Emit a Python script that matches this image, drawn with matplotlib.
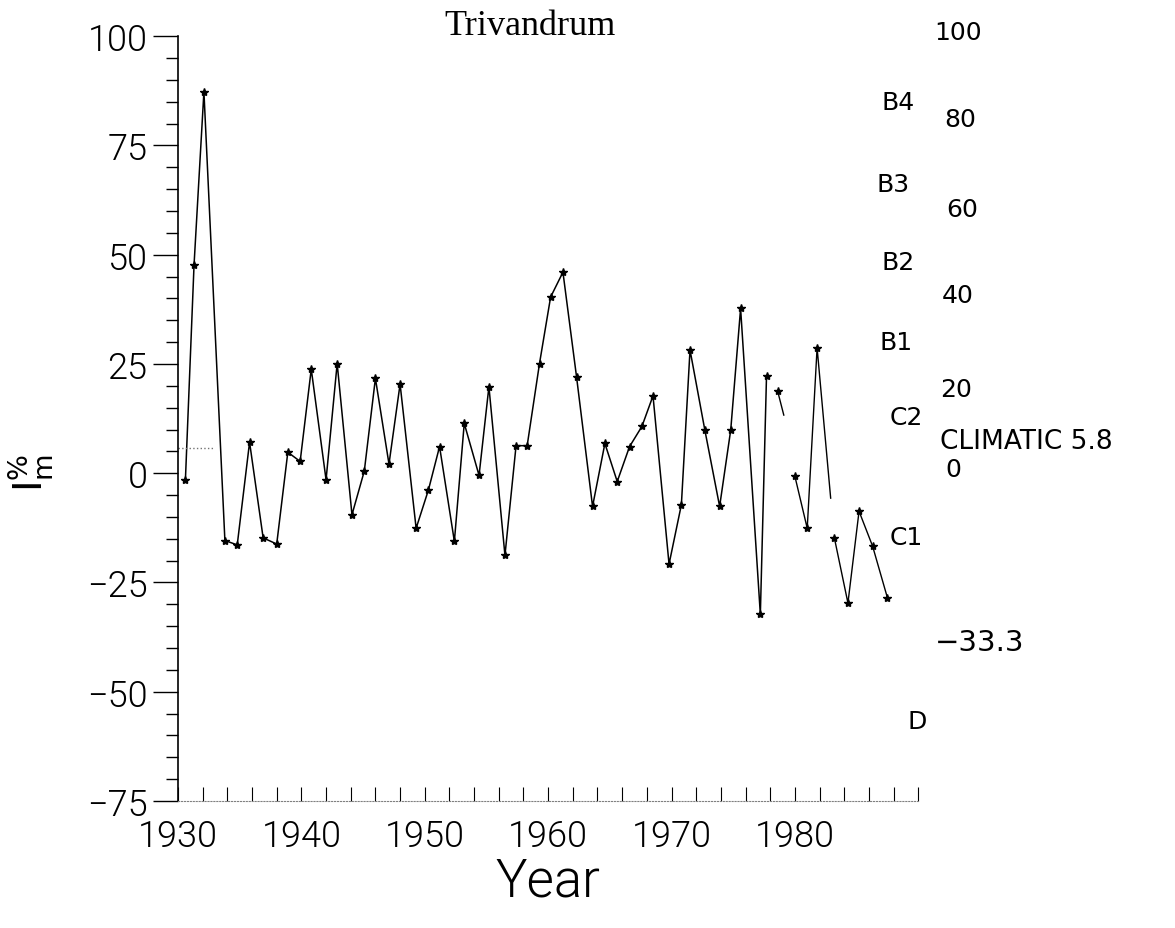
import matplotlib
matplotlib.use("Agg")
import matplotlib.pyplot as plt
from matplotlib.ticker import MultipleLocator

# Trivandrum moisture index (Im %)
years_a = [1930.6, 1931.3, 1932.1, 1933.8, 1934.8, 1935.8, 1936.9, 1938.0, 1938.9, 1939.9,
           1940.8, 1942.0, 1942.9, 1944.1, 1945.1, 1946.0, 1947.1, 1948.0, 1949.3, 1950.3,
           1951.2, 1952.4, 1953.2, 1954.4, 1955.2, 1956.5, 1957.4, 1958.3, 1959.3, 1960.2,
           1961.2, 1962.3, 1963.6, 1964.6, 1965.6, 1966.6, 1967.6, 1968.5, 1969.8, 1970.8,
           1971.5, 1972.7, 1973.9, 1974.8, 1975.6, 1977.2, 1977.7]
values_a = [-1.5, 47.7, 87.3, -15.4, -16.4, 7.1, -14.8, -16.2, 4.8, 2.7,
            23.8, -1.5, 25.1, -9.5, 0.5, 21.7, 2.1, 20.4, -12.6, -3.8,
            6.1, -15.6, 11.4, -0.5, 19.8, -18.8, 6.3, 6.3, 25.1, 40.3,
            46.0, 22.1, -7.6, 6.8, -1.9, 6.1, 10.7, 17.7, -20.8, -7.2,
            28.2, 9.9, -7.6, 9.9, 37.7, -32.3, 22.2]

# broken pieces of the trace towards the right
years_b = [1978.6, 1979.1]
values_b = [18.8, 13.3]
years_c = [1980.0, 1981.0, 1981.8, 1982.9]
values_c = [-0.7, -12.6, 28.7, -5.7]
years_d = [1983.2, 1984.3, 1985.2, 1986.3, 1987.5]
values_d = [-14.8, -29.7, -8.7, -16.7, -28.5]

climatic_mean = 5.8
mean_years = [1930, 1932.8]

decades = [1930, 1940, 1950, 1960, 1970, 1980]

# handwritten notes on the right margin: (text, x, y) in figure fraction
notes = [("100", 0.815, 0.964), ("B4", 0.764, 0.889), ("80", 0.817, 0.871),
         ("B3", 0.760, 0.801), ("60", 0.819, 0.774), ("B2", 0.764, 0.717),
         ("40", 0.815, 0.681), ("B1", 0.763, 0.631), ("20", 0.814, 0.580),
         ("C2", 0.771, 0.550), ("0", 0.811, 0.494), ("C1", 0.771, 0.421),
         ("D", 0.781, 0.223)]

tick_font = ["Roboto", "DejaVu Sans"]

fig = plt.figure(figsize=(11.75, 9.29), dpi=100)
ax = fig.add_axes([0.1515, 0.1367, 0.63, 0.8233])

ax.plot(years_a, values_a, color="k", lw=1.1, marker="*", ms=6)
ax.plot(years_b, values_b, color="k", lw=1.0, marker="*", ms=6, markevery=[0])
ax.plot(years_c, values_c, color="k", lw=1.0, marker="*", ms=6, markevery=[0, 1, 2])
ax.plot(years_d, values_d, color="k", lw=1.0, marker="*", ms=6)
ax.plot(mean_years, [climatic_mean, climatic_mean], color="0.45", lw=1.0, ls=":")

ax.set_xlim(1930, 1990)
ax.set_ylim(-75, 100)
ax.set_xticks(decades)
ax.set_xticklabels([str(d) for d in decades], family=tick_font, fontweight=300)
ax.xaxis.set_minor_locator(MultipleLocator(2))
ax.yaxis.set_major_locator(MultipleLocator(25))
ax.yaxis.set_minor_locator(MultipleLocator(5))
for lab in ax.get_yticklabels():
    lab.set_family(tick_font)
    lab.set_fontweight(300)

ax.tick_params(axis="y", which="major", direction="out", length=18, width=1.0,
               labelsize=26, pad=4)
ax.tick_params(axis="y", which="minor", direction="out", length=9, width=1.0)
ax.tick_params(axis="x", which="both", direction="in", length=10, width=0.8,
               labelsize=26, pad=12)

ax.spines["top"].set_visible(False)
ax.spines["right"].set_visible(False)
ax.spines["bottom"].set_linestyle(":")
ax.spines["bottom"].set_color("0.5")
ax.spines["left"].set_linewidth(1.2)

ax.set_xlabel("Year", fontsize=38, family=tick_font, fontweight=300, labelpad=1)
ax.set_ylabel(r"$\mathrm{I_m^{\%}}$", fontsize=28, rotation=90)
ax.yaxis.set_label_coords(-0.165, 0.43)

fig.text(0.451, 0.971, "Trivandrum", ha="center", va="center", fontsize=26,
         family="Liberation Serif")

for txt, x, y in notes:
    fig.text(x, y, txt, ha="center", va="center", fontsize=18)
fig.text(0.800, 0.524, "CLIMATIC 5.8", ha="left", va="center", fontsize=19)
fig.text(0.796, 0.308, "\u221233.3", ha="left", va="center", fontsize=21)

fig.savefig("out.png", dpi=100)
